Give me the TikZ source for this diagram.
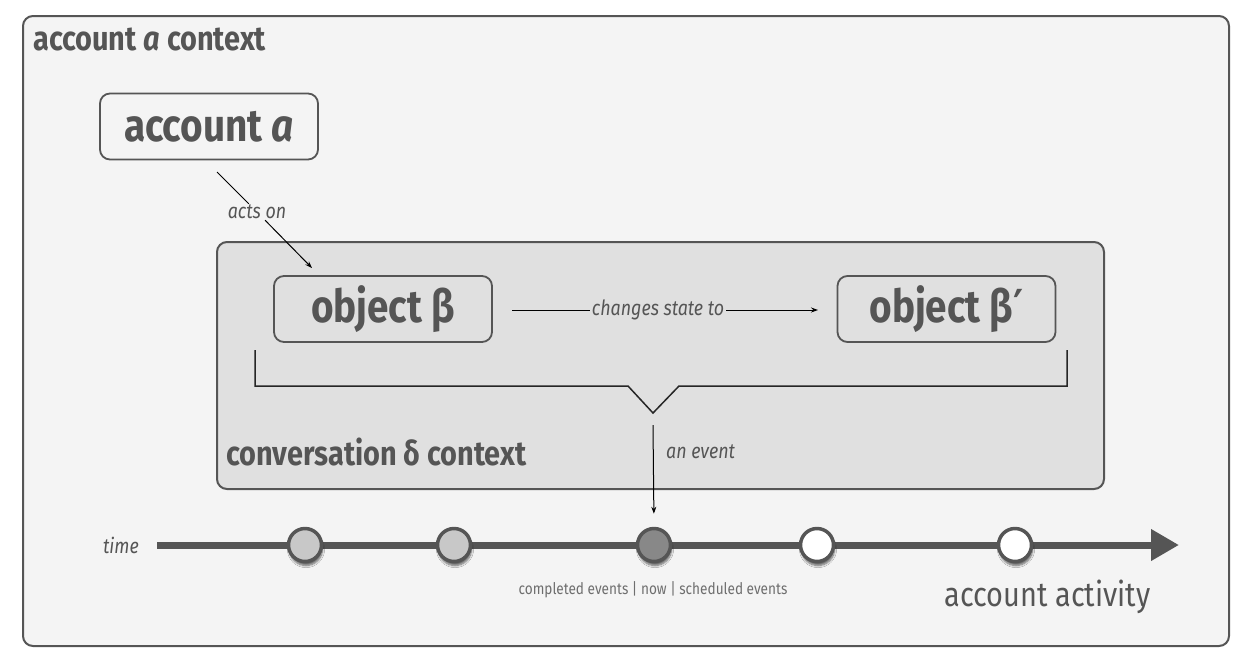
\documentclass[tikz,border=0pt]{standalone}
\usepackage{fontspec}
\setmainfont{Fira Sans}[FakeStretch=0.85]
\newfontfamily\primefont{DejaVu Sans}[FakeStretch=0.85]
\usetikzlibrary{arrows.meta,shadows.blur}
\definecolor{ink}{HTML}{555555}
\definecolor{outerfill}{HTML}{F4F4F4}
\definecolor{innerfill}{HTML}{E0E0E0}
\definecolor{donefill}{HTML}{C8C8C8}
\definecolor{nowfill}{HTML}{888888}
\tikzset{
  frame/.style={draw=ink, line width=2pt, rounded corners=10pt},
  ctxtitle/.style={text=ink, font=\bfseries\fontsize{34}{34}\selectfont, inner sep=0pt},
  entity/.style={frame, line width=1.8pt, minimum width=218pt, minimum height=66pt, text=ink,
    font=\bfseries\fontsize{45.5}{45.5}\selectfont},
  lbl/.style={text=ink, font=\itshape\fontsize{21}{21}\selectfont, inner sep=1pt},
  thin/.style={draw=black, line width=1pt},
  tip/.style={-{Stealth[length=7pt,width=5pt]}},
  evt/.style={circle, draw=ink, line width=3.5pt, minimum size=33pt, inner sep=0pt,
    blur shadow={shadow xshift=1pt, shadow yshift=-4pt, shadow blur steps=6, shadow opacity=60}},
}
\begin{document}
\begin{tikzpicture}[x=1pt,y=-1pt]
\path[use as bounding box] (0,0) rectangle (1246,659);
% outer context
\node[frame, fill=outerfill, minimum width=1206pt, minimum height=630pt, anchor=north west] (outer) at (22,15) {};
\node[ctxtitle, anchor=base west] (outertitle) at (33,50) {account \textit{a} context};
% inner context
\node[frame, fill=innerfill, minimum width=887pt, minimum height=247pt, anchor=north west] (inner) at (216,241) {};
\node[ctxtitle, anchor=base west] (innertitle) at (226,465) {conversation δ context};
% entities
\node[entity, fill=outerfill] (acct) at (209,126.5) {account \textit{a}};
\node[entity, fill=innerfill] (objb) at (383,309) {object β};
\node[entity, fill=innerfill] (objb2) at (946.5,309) {object β{\primefont\bfseries ′}};
% acts on
\coordinate (actsA) at (217,172);
\coordinate (actsB) at (312,268);
\node[lbl] (actson) at (257,212) {acts on};
\draw[thin] (actsA) -- (actson);
\draw[thin, tip] (actson) -- (actsB);
% changes state to
\coordinate (chA) at (512,310);
\coordinate (chB) at (818,310);
\node[lbl, fill=innerfill, inner xsep=2pt] (chg) at (658,310) {changes state to};
\draw[thin] (chA) -- (chg);
\draw[thin, tip] (chg) -- (chB);
% brace
\coordinate (brL) at (255,350);
\coordinate (brR) at (1067,350);
\coordinate (brTip) at (653,413);
\draw[draw=black!85, line width=1.5pt] (brL) -- (255,386) -- (628,386) -- (brTip) -- (679,386) -- (1067,386) -- (brR);
% event arrow
\coordinate (evTop) at (653,425);
\node[lbl, anchor=west] (anevent) at (665,452) {an event};
% timeline
\coordinate (tStart) at (157,545);
\coordinate (tEnd) at (1179,545);
\draw[draw=ink, line width=7pt, -{Triangle[length=28pt,width=30pt]}] (tStart) -- (tEnd);
\node[lbl, anchor=east] (time) at (140,545) {time};
\node[evt, fill=donefill] (e1) at (305,545) {};
\node[evt, fill=donefill] (e2) at (454,545) {};
\node[evt, fill=nowfill] (e3) at (654,545) {};
\node[evt, fill=white] (e4) at (817,545) {};
\node[evt, fill=white] (e5) at (1015,545) {};
\draw[thin, tip, shorten >=13pt] (evTop) -- (e3.north);
\node[text=ink!85, font=\fontsize{16}{16}\selectfont] (caption) at (653,590) {completed events | now | scheduled events};
\node[text=ink, font=\fontsize{34}{34}\selectfont, anchor=base east] (activity) at (1154,606) {account activity};
\end{tikzpicture}
\end{document}
